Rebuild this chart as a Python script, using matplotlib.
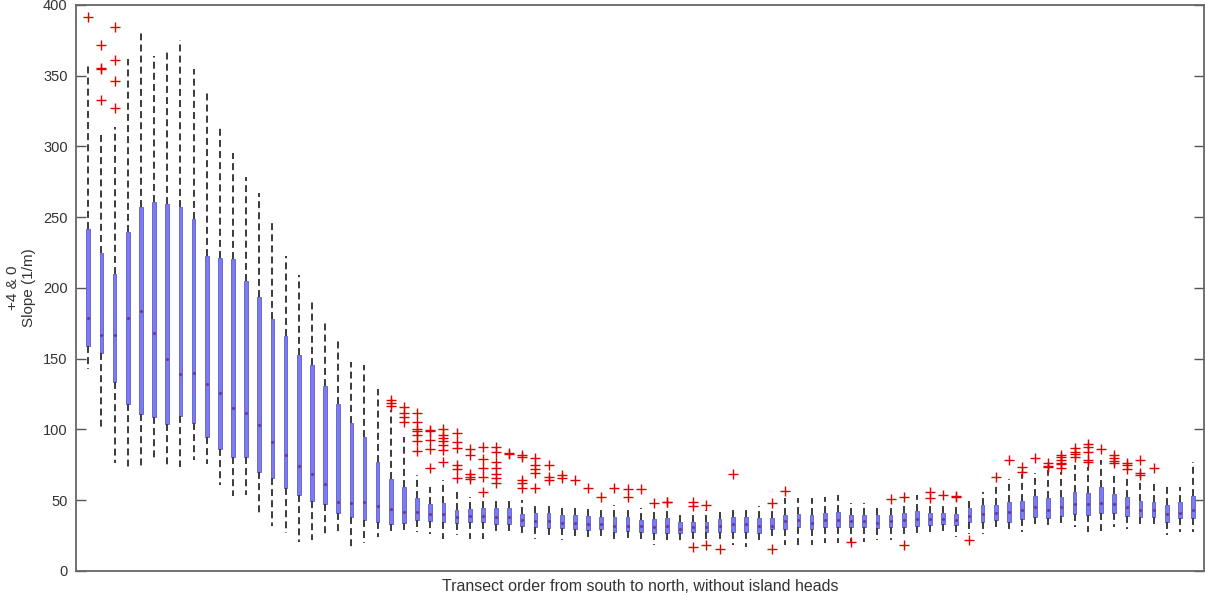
import numpy as np
import matplotlib.pyplot as plt

plt.rcParams['font.family'] = ['Liberation Sans', 'DejaVu Sans']
plt.rcParams['lines.scale_dashes'] = False

# Per-transect slope statistics (1/m), ordered south to north
whislo = [143, 99.6, 76.5, 72.5, 74.2, 78.4, 73.7, 73.7, 78.4, 75.4,
          60.8, 53, 53.7, 40.8, 32, 26.6, 20.7, 21.9, 23.8, 27,
          17.2, 19.6, 24.2, 27.8, 26.1, 27.8, 26.1, 22.4, 25.4, 22.4,
          22.4, 25.4, 25.4, 24.2, 22.4, 23.1, 21.9, 22.4, 21.4, 22.4,
          19.6, 22.4, 19.6, 18.4, 19.6, 19.6, 22.4, 22.4, 22.4, 18.4,
          17.2, 19.6, 23.1, 18.4, 18.4, 18.4, 19.6, 19.6, 19.6, 20.7,
          22, 22, 25.4, 25.4, 26.1, 26.1, 23.8, 26.1, 26.1, 28.5,
          27, 27.8, 31.8, 30.2, 31.3, 31.3, 27.8, 28.5, 31.3, 29.5,
          31.8, 30.2, 25.4, 27.8, 27.8]
q1 = [159, 153.8, 133.5, 118, 110.7, 108.6, 103.6, 109.5, 104.8, 94.4,
      86, 80.8, 80.3, 69.7, 65.5, 58.9, 53.7, 49.7, 47.3, 41.2,
      37.9, 36, 34.8, 33.2, 34.1, 36, 35.5, 34.8, 34.1, 34.8,
      34.8, 33.2, 33.2, 31.8, 30.9, 30.2, 30.2, 29.5, 29, 29.5,
      27.8, 28.5, 27.8, 26.6, 27, 26.6, 27.8, 27.8, 27.8, 27.8,
      27.8, 27, 29.5, 29.5, 30.9, 29.5, 30.9, 30.9, 31.3, 31.3,
      30.2, 31.3, 31.3, 31.8, 32.5, 33.2, 32.5, 34.8, 34.8, 36,
      34.8, 36.5, 38.4, 37.2, 38.9, 40.3, 39.6, 40.8, 40.8, 38.9,
      38.4, 37.9, 34.8, 37.2, 37.2]
med = [179, 167, 167, 179, 184, 168, 150, 139, 140, 132,
       126, 115, 112, 103, 91.4, 82, 74.2, 68.3, 61.5, 49,
       47.8, 49, 46, 43.6, 42, 42, 40, 40, 38, 39,
       39, 38, 38, 36, 35, 35, 34, 34, 33, 33,
       32, 32, 32, 31, 32, 30, 31, 31, 32, 33,
       33, 32, 32, 35, 36, 34, 36, 36, 35, 35,
       34, 35, 36, 37, 37, 37, 36, 39, 40, 41,
       42, 43, 45, 43, 45, 47, 47, 48, 47, 45,
       43, 43, 40, 41, 43]
q3 = [242, 224.4, 209.8, 239.7, 257.4, 261, 259.7, 257, 249, 222.5,
      221, 220.4, 205, 193.8, 177.8, 166, 152.6, 145.5, 130.7, 118,
      104.8, 94.9, 77.2, 64.8, 59.1, 51.3, 47.3, 48.3, 43.1, 43.6,
      44.3, 44.3, 44.3, 40.3, 40.8, 40.8, 39.6, 39.6, 38.9, 37.9,
      38.4, 37.9, 36, 36.5, 37.2, 34.8, 34.8, 34.8, 36.5, 38.4,
      37.9, 37.2, 37.2, 39.6, 40.3, 39.6, 40.8, 41.9, 39.6, 39.6,
      39.6, 39.6, 40.8, 42.6, 40.8, 41.2, 40.3, 44.3, 46.6, 46.6,
      49, 49.7, 53, 51.3, 52.5, 56, 55.3, 59.1, 54.4, 52.5,
      49.7, 49, 46.6, 49, 53]
whishi = [357, 308, 314, 361.5, 381.7, 363.8, 367.6, 375, 355, 339.8,
          315, 295.5, 278.6, 267, 245.6, 222.5, 209, 191, 176, 163.7,
          147.9, 145.5, 128.4, 113.7, 94.9, 67.8, 59.6, 64.3, 56, 52.5,
          52.5, 52.5, 52.5, 50.2, 47.3, 47.3, 46.6, 46.6, 45.9, 45.4,
          46.6, 45.9, 44.3, 43, 44.3, 41.2, 42, 43, 44.3, 45.9,
          45.9, 45.9, 45.4, 51.3, 51.3, 51.3, 52.5, 53.7, 47.8, 48.3,
          47.3, 47.3, 48.3, 53.7, 47.8, 47.8, 47.8, 52.5, 56, 62,
          64.8, 68.5, 69, 71.3, 70, 74.9, 73.7, 78.4, 69.4, 66.6,
          64.8, 62, 60.8, 59.6, 77.2]

# Outlying transects (box index -> values)
outliers = {
    0: [391.6],
    1: [372, 355.5, 354.5, 333],
    2: [384.5, 360.8, 346, 327],
    23: [120.8, 118.7, 116.6],
    24: [115.6, 111.4, 108.6, 105.5],
    25: [111.4, 105.5, 100.1, 99.1, 96.1, 92, 85],
    26: [99.6, 98.9, 92.5, 86, 72.6],
    27: [100.1, 96.1, 93.7, 91.8, 89, 85.5, 77.2],
    28: [97.3, 91.3, 86.7, 74.9, 71.8, 65.5],
    29: [86, 82, 68.3, 66.6, 64.8],
    30: [87.8, 78.9, 72.6, 66.6, 56],
    31: [87.8, 84.3, 77.2, 72.6, 68.5, 65.5, 62],
    32: [83.1, 82.6],
    33: [82, 80.8, 64.3, 62, 58.4],
    34: [79.6, 74.9, 71.8, 69.4, 58.4],
    35: [74.9, 66.6, 64.3],
    36: [67.8, 65.5],
    37: [64.3],
    38: [58.4],
    39: [52],
    40: [58.4],
    41: [57.7, 52.5],
    42: [57.7],
    43: [47.8],
    44: [49, 48.6],
    46: [48.5, 46.2, 17.2],
    47: [46.6, 18.4],
    48: [15.3],
    49: [68.5],
    52: [48.3, 15.3],
    53: [56.7],
    58: [20.7],
    61: [50.9],
    62: [52.5, 18.4],
    64: [56, 51.3],
    65: [53.7],
    66: [53, 52],
    67: [21.9],
    69: [66.6],
    70: [78.4],
    71: [73.3, 70.2],
    72: [79.6],
    73: [76.1, 74.2, 73.3],
    74: [82, 80.3, 78.4, 76.5, 75.6, 72.6],
    75: [86.7, 84.3, 82.6, 80.3],
    76: [89.7, 87.4, 84.3, 78.4, 77.2],
    77: [86],
    78: [82, 79.6, 77.9, 76.1],
    79: [76.5, 74.9, 71.8],
    80: [78.4, 69, 67.8],
    81: [72.6],
}

n = len(med)
positions = np.arange(1, n + 1)
stats = []
for i in range(n):
    stats.append({
        "whislo": whislo[i], "q1": q1[i], "med": med[i],
        "q3": q3[i], "whishi": whishi[i],
        "fliers": outliers.get(i, []),
    })

fig = plt.figure(figsize=(12.05, 5.93), dpi=100)
ax = fig.add_axes([0.0631, 0.0371, 0.9361, 0.9545])

ax.bxp(stats, positions=positions, widths=0.28, patch_artist=True,
       showcaps=False,
       boxprops=dict(facecolor="#7c7cf0", edgecolor="#5c5cd0", linewidth=0.6),
       whiskerprops=dict(color="#3a3a3a", linewidth=1.4, linestyle=(0, (5, 3))),
       medianprops=dict(linewidth=0),
       flierprops=dict(marker="+", markeredgecolor="#e00000", markersize=7,
                       markeredgewidth=1.0, linestyle="none"))
# median marks
ax.plot(positions, med, linestyle="none", marker=".", markersize=2.5,
        color="#6a3a9a")

ax.set_xlim(0.065, 85.84)
ax.set_ylim(0, 400)
ax.set_yticks(np.arange(0, 401, 50))
ax.set_xticks([])
ax.tick_params(axis="y", direction="in", length=7, width=1.0, right=True,
               labelsize=10.5, labelcolor="#333333", color="#555555", pad=6)
for s in ax.spines.values():
    s.set_color("#666666")
    s.set_linewidth(1.3)

ax.set_ylabel("+4 & 0\nSlope (1/m)", fontsize=11, color="#333333", labelpad=5)
ax.set_xlabel("Transect order from south to north, without island heads",
              fontsize=11.5, color="#333333", labelpad=6)

fig.savefig("out.png", dpi=100)
